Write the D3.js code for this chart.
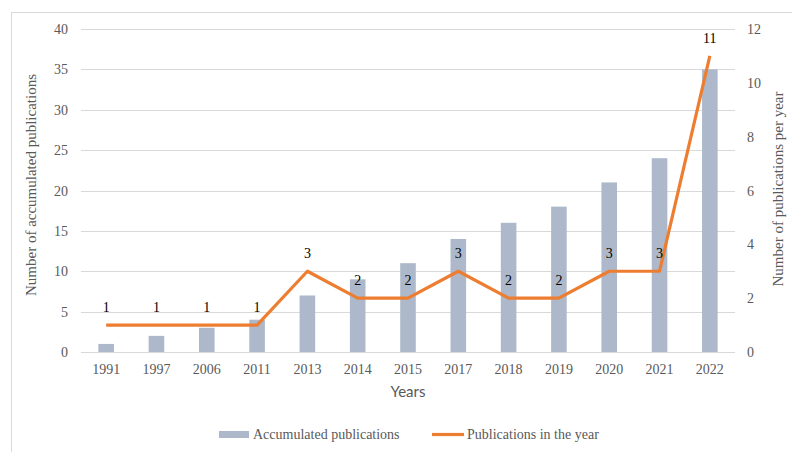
<!DOCTYPE html>
<html>
<head>
<meta charset="utf-8">
<script src="https://cdn.jsdelivr.net/npm/d3@7.9.0/dist/d3.min.js"></script>
<style>
  body { margin: 0; background: #fff; }
  svg text { font-family: "Liberation Serif", "Times New Roman", serif; }
</style>
</head>
<body>
<svg id="chart" width="792" height="452"></svg>
<script>
// data
const years = ['1991', '1997', '2006', '2011', '2013', '2014', '2015', '2017', '2018', '2019', '2020', '2021', '2022'];
const accumulated = [1, 2, 3, 4, 7, 9, 11, 14, 16, 18, 21, 24, 35];
const perYear = [1, 1, 1, 1, 3, 2, 2, 3, 2, 2, 3, 3, 11];
const leftTicks = [0, 5, 10, 15, 20, 25, 30, 35, 40];
const rightTicks = [0, 2, 4, 6, 8, 10, 12];

const barColor = '#ADB9CA';
const lineColor = '#ED7D31';
const gridColor = '#D9D9D9';
const tickColor = '#595959';

const svg = d3.select('#chart');

// frame (top and left edge visible in the crop)
svg.append('rect')
  .attr('x', 11.5).attr('y', 12.5)
  .attr('width', 800).attr('height', 460)
  .attr('fill', 'none').attr('stroke', gridColor);

const x = d3.scaleBand().domain(years).range([81, 735]);
const yL = d3.scaleLinear().domain([0, 40]).range([352, 29]);
const yR = d3.scaleLinear().domain([0, 12]).range([352, 29]);
const barW = x.bandwidth() * 0.31;
const cx = (d) => x(d) + x.bandwidth() / 2;

// gridlines
svg.append('g')
  .selectAll('line')
  .data(leftTicks)
  .join('line')
  .attr('x1', 81).attr('x2', 735)
  .attr('y1', (d) => Math.round(yL(d)) + 0.5)
  .attr('y2', (d) => Math.round(yL(d)) + 0.5)
  .attr('stroke', gridColor)
  .attr('stroke-width', 1.2);

// left axis labels
svg.append('g')
  .selectAll('text')
  .data(leftTicks)
  .join('text')
  .attr('x', 68)
  .attr('y', (d) => yL(d) + 5)
  .attr('text-anchor', 'end')
  .attr('font-size', 14)
  .attr('fill', tickColor)
  .text((d) => d);

// right axis labels
svg.append('g')
  .selectAll('text')
  .data(rightTicks)
  .join('text')
  .attr('x', 747)
  .attr('y', (d) => yR(d) + 5)
  .attr('text-anchor', 'start')
  .attr('font-size', 14)
  .attr('fill', tickColor)
  .text((d) => d);

// x labels
svg.append('g')
  .selectAll('text')
  .data(years)
  .join('text')
  .attr('x', cx)
  .attr('y', 374)
  .attr('text-anchor', 'middle')
  .attr('font-size', 14)
  .attr('fill', tickColor)
  .text((d) => d);

// bars
svg.append('g')
  .selectAll('rect')
  .data(years)
  .join('rect')
  .attr('x', (d) => cx(d) - barW / 2)
  .attr('width', barW)
  .attr('y', (d, i) => yL(accumulated[i]))
  .attr('height', (d, i) => yL(0) - yL(accumulated[i]))
  .attr('fill', barColor);

// line
const line = d3.line()
  .x((d, i) => cx(years[i]))
  .y((d) => yR(d));

svg.append('path')
  .datum(perYear)
  .attr('d', line)
  .attr('fill', 'none')
  .attr('stroke', lineColor)
  .attr('stroke-width', 3.2)
  .attr('stroke-linejoin', 'round');

// data labels
svg.append('g')
  .selectAll('text')
  .data(perYear)
  .join('text')
  .attr('x', (d, i) => cx(years[i]))
  .attr('y', (d) => yR(d) - 13)
  .attr('text-anchor', 'middle')
  .attr('font-size', 14)
  .attr('fill', '#000')
  .text((d) => d);

// axis titles
svg.append('text')
  .attr('transform', 'translate(36,185) rotate(-90)')
  .attr('text-anchor', 'middle')
  .attr('font-size', 15)
  .attr('fill', tickColor)
  .text('Number of accumulated publications');

svg.append('text')
  .attr('transform', 'translate(783,189) rotate(-90)')
  .attr('text-anchor', 'middle')
  .attr('font-size', 15)
  .attr('fill', tickColor)
  .text('Number of publications per year');

svg.append('text')
  .attr('x', 408).attr('y', 397)
  .attr('text-anchor', 'middle')
  .attr('font-size', 15)
  .attr('fill', tickColor)
  .style('font-family', 'Lato, "Open Sans", sans-serif')
  .text('Years');

// legend
const legend = svg.append('g');
legend.append('rect')
  .attr('x', 219).attr('y', 431)
  .attr('width', 30).attr('height', 7)
  .attr('fill', barColor);
legend.append('text')
  .attr('x', 253).attr('y', 439)
  .attr('font-size', 14)
  .attr('fill', tickColor)
  .text('Accumulated publications');
legend.append('line')
  .attr('x1', 432).attr('x2', 464)
  .attr('y1', 434.5).attr('y2', 434.5)
  .attr('stroke', lineColor)
  .attr('stroke-width', 3.2);
legend.append('text')
  .attr('x', 467).attr('y', 439)
  .attr('font-size', 14)
  .attr('fill', tickColor)
  .text('Publications in the year');
</script>
</body>
</html>
